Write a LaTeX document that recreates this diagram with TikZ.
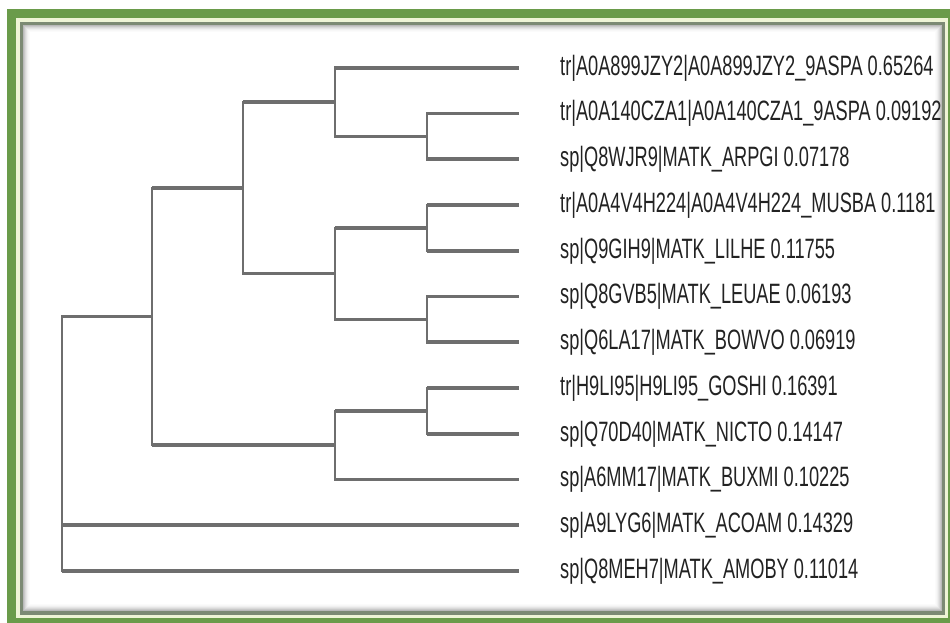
\documentclass[tikz,border=0pt]{standalone}
\usepackage{fontspec}
\setmainfont[FakeStretch=0.65]{Liberation Sans}
\usetikzlibrary{calc}
\definecolor{framegreen}{HTML}{6A9B4A}
\definecolor{framecream}{HTML}{EEF4D6}
\definecolor{frameline}{HTML}{7C8A74}
\definecolor{branch}{HTML}{6E6E6E}
\definecolor{labeltext}{HTML}{222222}
\tikzset{
  hbranch/.style={draw=branch, line width=3.6pt, line cap=butt},
  vbranch/.style={draw=branch, line width=2.6pt, line cap=rect},
  leaflabel/.style={anchor=base west, inner sep=0pt, text=labeltext,
    font=\fontsize{28}{30}\selectfont},
}
\begin{document}
\begin{tikzpicture}[x=1pt,y=-1pt]
\useasboundingbox (0,0) rectangle (950,622);
% frame
\fill[white] (0,0) rectangle (950,622);
\fill[framegreen] (7,9) rectangle (980,650);
\fill[framecream] (16,18) rectangle (948,618);
\fill[frameline] (20,22) rectangle (945,615);
\fill[white] (23,25) rectangle (942,611);
\foreach \i/\c in {0/45,1/58,2/70,3/80,4/88,5/94,6/97}{
  \draw[draw=white!\c!gray, line width=1pt]
    (23.5+\i,25.5+\i) rectangle (941.5-\i,610.5-\i);
}
% leaves
\foreach \n/\t [count=\k from 0] in {
  1/{tr|A0A899JZY2|A0A899JZY2\_9ASPA 0.65264},
  2/{tr|A0A140CZA1|A0A140CZA1\_9ASPA 0.09192},
  3/{sp|Q8WJR9|MATK\_ARPGI 0.07178},
  4/{tr|A0A4V4H224|A0A4V4H224\_MUSBA 0.1181},
  5/{sp|Q9GIH9|MATK\_LILHE 0.11755},
  6/{sp|Q8GVB5|MATK\_LEUAE 0.06193},
  7/{sp|Q6LA17|MATK\_BOWVO 0.06919},
  8/{tr|H9LI95|H9LI95\_GOSHI 0.16391},
  9/{sp|Q70D40|MATK\_NICTO 0.14147},
  10/{sp|A6MM17|MATK\_BUXMI 0.10225},
  11/{sp|A9LYG6|MATK\_ACOAM 0.14329},
  12/{sp|Q8MEH7|MATK\_AMOBY 0.11014}}{
  \coordinate (L\n) at (519,67.7+45.75*\k);
  \node[leaflabel] (t\n) at (560,67.7+45.75*\k+7.5) {\t};
}
% column positions
\coordinate (X1) at (62,0);
\coordinate (X2) at (152,0);
\coordinate (X3) at (243,0);
\coordinate (X4) at (335,0);
\coordinate (X5) at (427,0);
% internal nodes
\coordinate (Fm) at ($(L2)!0.5!(L3)$);  \coordinate (F) at (X5 |- Fm);
\coordinate (Dm) at ($(L1)!0.5!(F)$);   \coordinate (D) at (X4 |- Dm);
\coordinate (Gm) at ($(L4)!0.5!(L5)$);  \coordinate (G) at (X5 |- Gm);
\coordinate (Hm) at ($(L6)!0.5!(L7)$);  \coordinate (H) at (X5 |- Hm);
\coordinate (Em) at ($(G)!0.5!(H)$);    \coordinate (E) at (X4 |- Em);
\coordinate (Bm) at ($(D)!0.5!(E)$);    \coordinate (B) at (X3 |- Bm);
\coordinate (Im) at ($(L8)!0.5!(L9)$);  \coordinate (I) at (X5 |- Im);
\coordinate (Cm) at ($(I)!0.5!(L10)$);  \coordinate (C) at (X4 |- Cm);
\coordinate (Am) at ($(B)!0.5!(C)$);    \coordinate (A) at (X2 |- Am);
\coordinate (Rm) at ($(A)!0.5!(L12)$);  \coordinate (R) at (X1 |- Rm);
% branches
\foreach \p/\first/\last/\kids in {
  F/L2/L3/{L2,L3}, D/L1/F/{L1,F}, G/L4/L5/{L4,L5}, H/L6/L7/{L6,L7},
  E/G/H/{G,H}, B/D/E/{D,E}, I/L8/L9/{L8,L9}, C/I/L10/{I,L10},
  A/B/C/{B,C}, R/A/L12/{A,L11,L12}}{
  \draw[vbranch] (\p |- \first) -- (\p |- \last);
  \foreach \c in \kids { \draw[hbranch] (\p |- \c) -- (\c); }
}
\end{tikzpicture}
\end{document}
